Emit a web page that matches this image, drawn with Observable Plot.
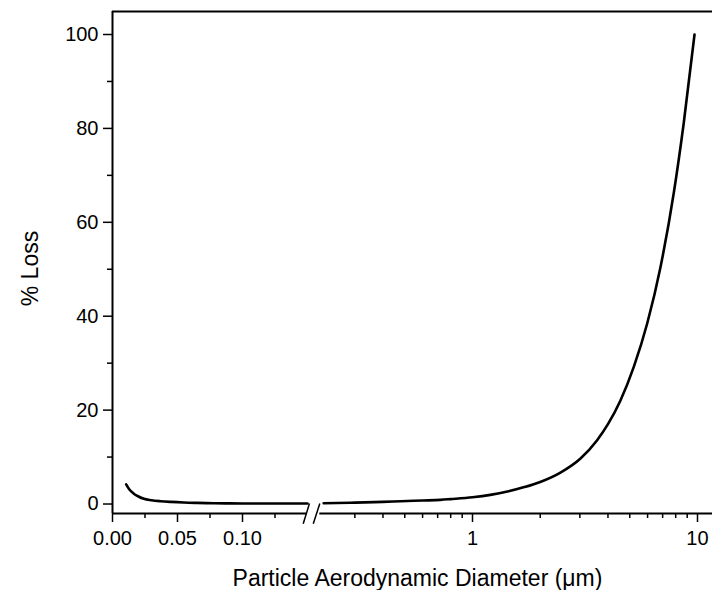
<!DOCTYPE html>
<html>
<head>
<meta charset="utf-8">
<script src="https://cdn.jsdelivr.net/npm/d3@7"></script>
<script src="https://cdn.jsdelivr.net/npm/@observablehq/plot@0.6"></script>
<style>
  html, body { margin: 0; padding: 0; background: #fff; }
</style>
</head>
<body>
<div id="chart"></div>
<script>
// ---- data ----
// left (linear) segment: diameter in µm, % loss
const leftDiameter = [0.0105, 0.013, 0.0164, 0.02, 0.0241, 0.03, 0.0369, 0.045, 0.0548, 0.065, 0.078, 0.09, 0.1, 0.12, 0.14, 0.15];
const leftLoss     = [4.2, 3.1, 2.2, 1.6, 1.1, 0.8, 0.6, 0.45, 0.32, 0.24, 0.17, 0.14, 0.12, 0.1, 0.1, 0.1];
// right (log) segment
const rightDiameter = [0.218, 0.3, 0.4, 0.48, 0.6, 0.72, 0.8, 1.0, 1.2, 1.43, 1.7, 2.0, 2.46, 3.02, 3.58, 4.0, 4.54, 5.21, 5.98, 6.85, 7.86, 8.69, 9.7];
const rightLoss     = [0.17, 0.3, 0.45, 0.6, 0.75, 0.88, 1.05, 1.45, 1.95, 2.65, 3.6, 4.7, 6.7, 9.7, 13.6, 17.0, 22.0, 29.2, 38.5, 50.5, 66.5, 81.2, 100];

// tick values / labels
const xMajorTicks  = [0, 0.05, 0.10, 1, 10];
const xMajorLabels = ["0.00", "0.05", "0.10", "1", "10"];
const xMinorTicks  = [0.025, 0.075, 0.125, 0.3, 0.4, 0.5, 0.6, 0.7, 0.8, 0.9, 2, 3, 4, 5, 6, 7, 8, 9];
const yMajorTicks  = [0, 20, 40, 60, 80, 100];
const yMinorTicks  = [10, 30, 50, 70, 90];

// axis break
const leftEnd = 0.15, rightStart = 0.2096, axisEnd = 12;
const breakSlashes = [
  {x1: 0.1467, x2: 0.1515},
  {x1: 0.196,  x2: 0.2096}
];

const xLabel = "Particle Aerodynamic Diameter (\u03bcm)";
const yLabel = "% Loss";

// ---- broken x axis: linear below the break, log above ----
// u is expressed in units of 0.05 µm of the linear part
const DECADE = 3.4615;   // one log decade, in those units
const ONE_UM = 5.5385;   // position of 1 µm
const u = d => d <= 0.16 ? d / 0.05 : ONE_UM + DECADE * Math.log10(d);

const yDomain = [-2.02, 104.9];

const leftData  = leftDiameter.map((d, i) => ({d, loss: leftLoss[i]}));
const rightData = rightDiameter.map((d, i) => ({d, loss: rightLoss[i]}));
const labelOf = new Map(xMajorTicks.map((t, i) => [u(t), xMajorLabels[i]]));

const font = "'Liberation Sans', Arial, sans-serif";

const chart = Plot.plot({
  width: 712,
  height: 590,
  marginLeft: 112,
  marginRight: 0,
  marginTop: 11,
  marginBottom: 77,
  style: {fontFamily: font, fontSize: "20px", color: "#000", background: "#fff"},
  x: {type: "linear", domain: [0, 9.2308], label: null},
  y: {domain: yDomain, label: null},
  marks: [
    // frame: left spine, top line
    Plot.ruleX([0], {y1: yDomain[0], y2: yDomain[1], stroke: "#000", strokeWidth: 2}),
    Plot.ruleY([yDomain[1]], {x1: 0, x2: u(axisEnd), stroke: "#000", strokeWidth: 2}),
    // bottom axis line with a break
    Plot.ruleY([{a: 0, b: leftEnd}, {a: rightStart, b: axisEnd}], {
      y: () => yDomain[0], x1: d => u(d.a), x2: d => u(d.b), stroke: "#000", strokeWidth: 2
    }),
    Plot.link(breakSlashes, {
      x1: d => u(d.x1), x2: d => u(d.x2), y1: -4.2, y2: 0.1, stroke: "#000", strokeWidth: 1.5
    }),
    // axes
    Plot.axisX(xMajorTicks.map(u), {
      anchor: "bottom", tickSize: 9, tickPadding: 8, strokeWidth: 1.5,
      tickFormat: v => labelOf.get(v), fontSize: 20, fill: "#000", label: null
    }),
    Plot.axisX(xMinorTicks.map(u), {
      anchor: "bottom", tickSize: 5, strokeWidth: 1.5, tickFormat: () => "", label: null
    }),
    Plot.axisY(yMajorTicks, {
      anchor: "left", tickSize: 9, tickPadding: 5, strokeWidth: 1.5,
      fontSize: 20, fill: "#000", label: null
    }),
    Plot.axisY(yMinorTicks, {
      anchor: "left", tickSize: 5, strokeWidth: 1.5, tickFormat: () => "", label: null
    }),
    // curve
    Plot.line(leftData, {x: d => u(d.d), y: "loss", stroke: "#000", strokeWidth: 2.6, curve: "monotone-x"}),
    Plot.line(rightData, {x: d => u(d.d), y: "loss", stroke: "#000", strokeWidth: 2.6, curve: "monotone-x"}),
    // axis titles
    Plot.text([yLabel], {
      frameAnchor: "left", textAnchor: "middle", lineAnchor: "middle",
      dx: -82, dy: 6, rotate: -90, fontSize: 23, fill: "#000"
    }),
    Plot.text([xLabel], {
      frameAnchor: "bottom", textAnchor: "middle", lineAnchor: "middle",
      dx: 5, dy: 65, fontSize: 23, fill: "#000"
    })
  ]
});

document.getElementById("chart").appendChild(chart);
</script>
</body>
</html>
